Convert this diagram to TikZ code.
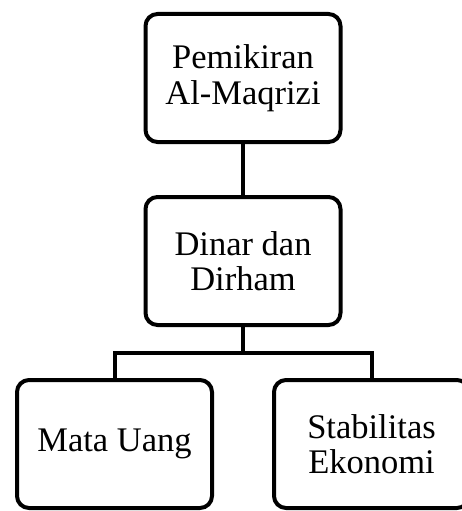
\documentclass[tikz,border=0pt]{standalone}
\usepackage{fontspec}
\setmainfont{Liberation Serif}
\usepackage{tikz}
\usetikzlibrary{positioning}

\begin{document}
\begin{tikzpicture}[
			     kotak/.style={draw,line width=4pt,rounded corners=12pt,
			       minimum width=195pt,minimum height=128pt,
			       inner sep=0pt,outer sep=0pt,align=center,
			       font=\fontsize{34.5}{35.5}\selectfont},
			     garis/.style={line width=4pt}
			     ]
\useasboundingbox (0,0) rectangle (462pt,-511pt);
\node[kotak] (pemikiran) at (243pt,-78pt) {Pemikiran\\Al-Maqrizi};
\node[kotak, below=55pt of pemikiran] (dinar) {Dinar dan\\Dirham};
\node[kotak, below left=55pt and -66.5pt of dinar] (mata) {Mata Uang};
\node[kotak, below right=55pt and -66.5pt of dinar] (stabil) {Stabilitas\\Ekonomi};
\draw[garis] (pemikiran) -- (dinar);
\draw[garis] (dinar.south) -- ++(0,-28pt) coordinate (cabang);
\draw[garis] (cabang) -| (mata.north);
\draw[garis] (cabang) -| (stabil.north);
\end{tikzpicture}
\end{document}
